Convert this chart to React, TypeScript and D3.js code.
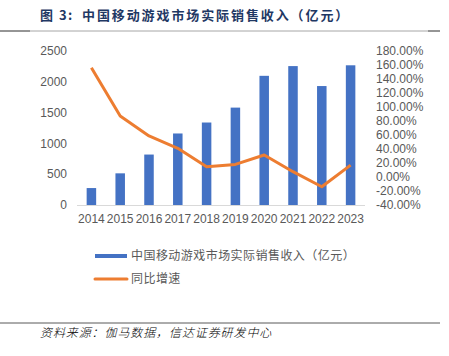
import React from "react";
import * as d3 from "d3";

const years = ["2014", "2015", "2016", "2017", "2018", "2019", "2020", "2021", "2022", "2023"];
const revenue = [275, 514, 819, 1161, 1339, 1581, 2097, 2255, 1931, 2268];
const growth = [156, 87, 58.6, 41, 14.7, 18, 31.4, 7.6, -13.9, 17];
const leftTicks = [0, 500, 1000, 1500, 2000, 2500];
const rightTicks = [-40, -20, 0, 20, 40, 60, 80, 100, 120, 140, 160, 180];
const titleLabel = "图 3:";
const titleText = "中国移动游戏市场实际销售收入（亿元）";
const barLegend = "中国移动游戏市场实际销售收入（亿元）";
const lineLegend = "同比增速";
const sourceText = "资料来源：伽马数据，信达证券研发中心";

export default function App() {
  const W = 449, H = 356;
  const x0 = 77, x1 = 365, yTop = 51, yBot = 205;
  const x = d3.scaleBand<string>().domain(years).range([x0, x1]).paddingInner(0.67).paddingOuter(0.335);
  const xc = d3.scalePoint<string>().domain(years).range([x0 + 14.4, x1 - 14.4]);
  const yL = d3.scaleLinear().domain([0, 2500]).range([yBot, yTop]);
  const yR = d3.scaleLinear().domain([-40, 180]).range([yBot, yTop]);
  const line = d3.line<number>().x((_, i) => xc(years[i])!).y(d => yR(d));
  const font = "'Liberation Sans', Arial, sans-serif";
  const cjk = "'Noto Sans CJK SC', sans-serif";
  const gray = "#595959";
  return (
    <svg width={W} height={H} style={{ position: "absolute", left: 0, top: 0, background: "#fff" }}>
      <text x={40} y={20} fontFamily={cjk} fontWeight="bold" fontSize={13} fill="#1f3864" letterSpacing={1.5}>{titleLabel}</text>
      <text x={82} y={20} fontFamily={cjk} fontWeight="bold" fontSize={13} fill="#1f3864" letterSpacing={1.9}>{titleText}</text>
      <line x1={0} x2={440} y1={31} y2={31} stroke="#a6a6a6" strokeWidth={1} />
      <line x1={0} x2={30} y1={31} y2={31} stroke="#595959" strokeWidth={1} />
      <line x1={428} x2={440} y1={31} y2={31} stroke="#595959" strokeWidth={1} />
      {leftTicks.map(t => (
        <text key={"l" + t} x={67} y={yL(t)} dy="0.35em" textAnchor="end" fontFamily={font} fontSize={12} fill={gray}>{t}</text>
      ))}
      {rightTicks.map(t => (
        <text key={"r" + t} x={376} y={yR(t)} dy="0.35em" textAnchor="start" fontFamily={font} fontSize={12} fill={gray}>{t.toFixed(2) + "%"}</text>
      ))}
      {years.map((yr, i) => (
        <rect key={yr} x={x(yr)} y={yL(revenue[i])} width={x.bandwidth()} height={yBot - yL(revenue[i])} fill="#4472C4" />
      ))}
      <line x1={x0} x2={x1} y1={yBot + 0.5} y2={yBot + 0.5} stroke="#d9d9d9" strokeWidth={1} />
      {years.map(yr => (
        <text key={"x" + yr} x={xc(yr)} y={219} dy="0.35em" textAnchor="middle" fontFamily={font} fontSize={12} fill={gray}>{yr}</text>
      ))}
      <path d={line(growth) || ""} fill="none" stroke="#ED7D31" strokeWidth={3} strokeLinejoin="round" />
      <rect x={95} y={254} width={32} height={4} fill="#4472C4" />
      <text x={131} y={256} dy="0.35em" fontFamily={cjk} fontSize={12} fill={gray} letterSpacing={0.45}>{barLegend}</text>
      <line x1={95} x2={127} y1={279} y2={279} stroke="#ED7D31" strokeWidth={3} strokeLinecap="round" />
      <text x={131} y={279} dy="0.35em" fontFamily={cjk} fontSize={12} fill={gray} letterSpacing={0.45}>{lineLegend}</text>
      <line x1={0} x2={440} y1={323} y2={323} stroke="#595959" strokeWidth={1} />
      <text x={40} y={337} fontFamily={cjk} fontStyle="italic" fontWeight={300} fontSize={12} fill="#000" letterSpacing={0.9}>{sourceText}</text>
    </svg>
  );
}
